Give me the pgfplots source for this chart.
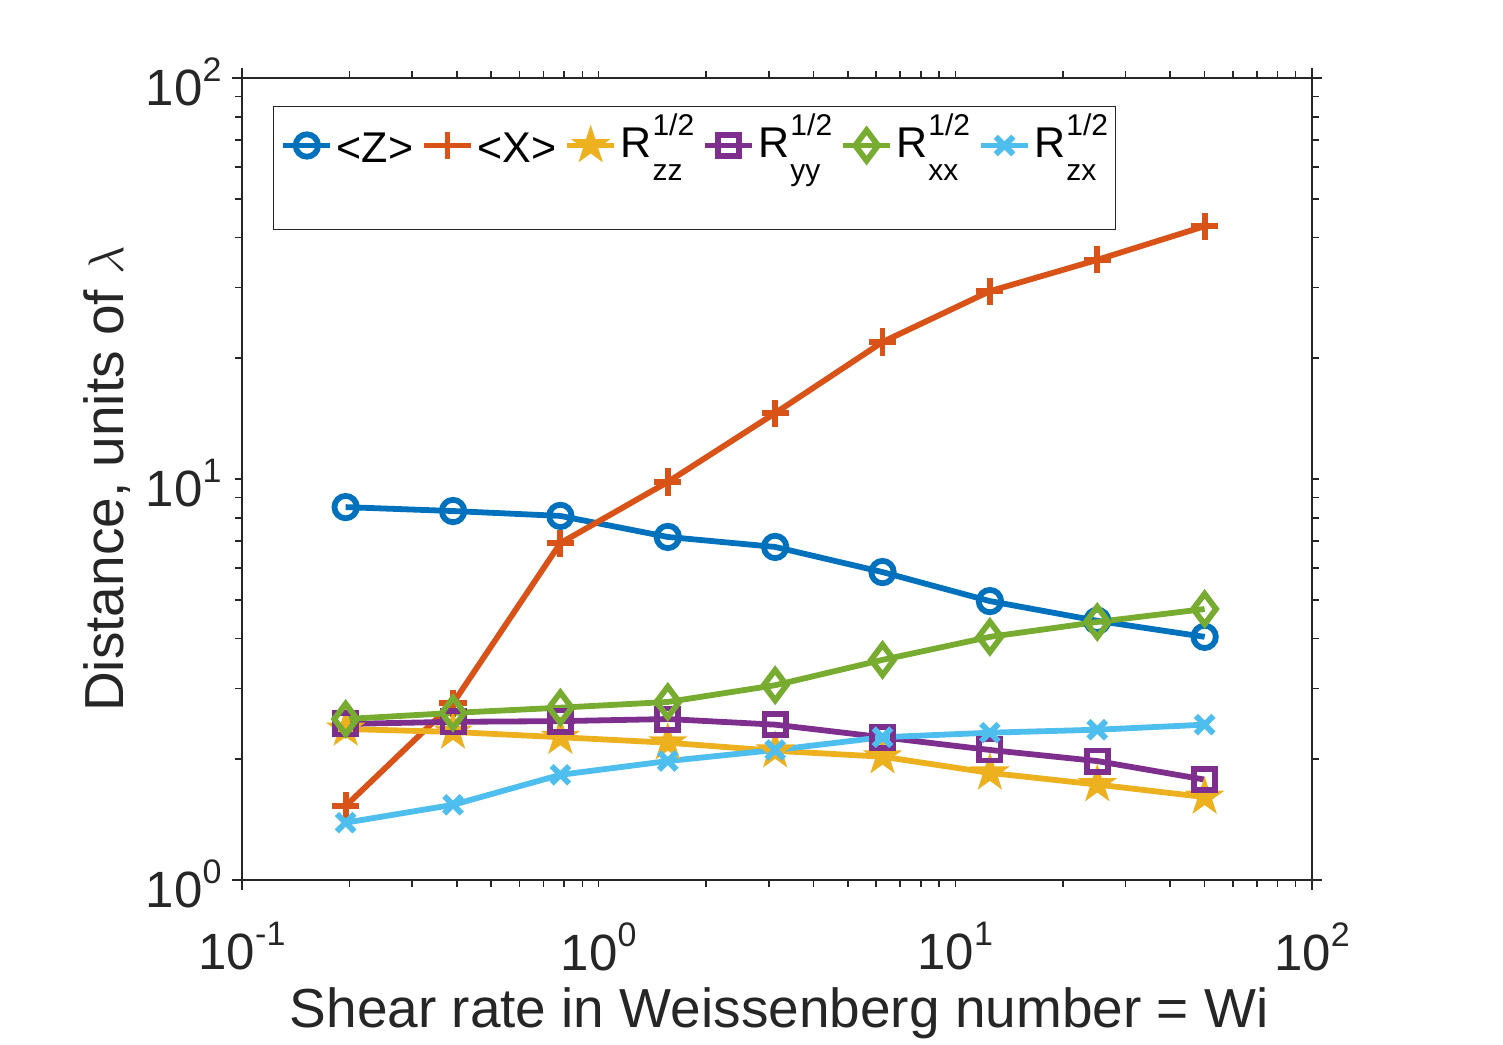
\documentclass[border=0pt]{standalone}
\usepackage{fontspec}
\setmainfont{Liberation Sans}
\usepackage{pgfplots}
\pgfplotsset{compat=1.18}

\definecolor{mblue}{rgb}{0,0.447,0.741}
\definecolor{morange}{rgb}{0.850,0.325,0.098}
\definecolor{myellow}{rgb}{0.929,0.694,0.125}
\definecolor{mpurple}{rgb}{0.494,0.184,0.556}
\definecolor{mgreen}{rgb}{0.466,0.674,0.188}
\definecolor{mcyan}{rgb}{0.301,0.745,0.933}
\definecolor{axgray}{rgb}{0.15,0.15,0.15}

% filled five-pointed star
\pgfdeclareplotmark{fstar}{%
  \pgfpathmoveto{\pgfpointpolar{90}{\pgfplotmarksize}}%
  \pgfpathlineto{\pgfpointpolar{126}{0.382\pgfplotmarksize}}%
  \pgfpathlineto{\pgfpointpolar{162}{\pgfplotmarksize}}%
  \pgfpathlineto{\pgfpointpolar{198}{0.382\pgfplotmarksize}}%
  \pgfpathlineto{\pgfpointpolar{234}{\pgfplotmarksize}}%
  \pgfpathlineto{\pgfpointpolar{270}{0.382\pgfplotmarksize}}%
  \pgfpathlineto{\pgfpointpolar{306}{\pgfplotmarksize}}%
  \pgfpathlineto{\pgfpointpolar{342}{0.382\pgfplotmarksize}}%
  \pgfpathlineto{\pgfpointpolar{18}{\pgfplotmarksize}}%
  \pgfpathlineto{\pgfpointpolar{54}{0.382\pgfplotmarksize}}%
  \pgfpathclose
  \pgfusepathqfillstroke}

% power-of-ten tick labels
\newcommand{\tl}[1]{10\raisebox{12pt}{\fontsize{17}{17}\selectfont #1}}
% R^{1/2} with a subscript
\newcommand{\Rlab}[1]{R\kern0.5pt\raisebox{-11.5pt}{\makebox[0pt][l]{\fontsize{15}{15}\selectfont #1}}\raisebox{11pt}{\fontsize{15}{15}\selectfont 1/2}}

\begin{document}
\begin{tikzpicture}
\useasboundingbox (-121pt,-82pt) rectangle (630.5pt,440pt);
\begin{axis}[
  scale only axis, width=535pt, height=401pt,
  xmode=log, ymode=log,
  xmin=0.1, xmax=100, ymin=1, ymax=100,
  separate axis lines,
  axis line style={axgray, line width=0.8pt},
  every outer x axis line/.append style={shorten <=-5pt, shorten >=-5pt},
  every outer y axis line/.append style={shorten <=-5pt, shorten >=-5pt},
  tick style={axgray, line width=0.8pt},
  tick align=outside,
  major tick length=3.5pt, minor tick length=3.5pt,
  xtick={0.1,1,10,100}, xticklabels={\tl{-1},\tl{0},\tl{1},\tl{2}},
  ytick={1,10,100}, yticklabels={\tl{0},\tl{1},\tl{2}},
  tick label style={font=\fontsize{25.5}{28}\selectfont, text=axgray},
  xticklabel style={anchor=north, inner sep=0pt, yshift=-17.5pt},
  yticklabel style={anchor=east, inner sep=0pt, xshift=-6.5pt, yshift=-2pt},
  xlabel={Shear rate in Weissenberg number = Wi},
  ylabel={Distance, units of $\lambda$},
  xlabel style={at={(axis description cs:0.502,-0.1833)}, anchor=base,
    font=\fontsize{27.5}{30}\selectfont, text=axgray},
  ylabel style={at={(axis description cs:-0.1112,0.5)}, anchor=base,
    font=\fontsize{27.5}{30}\selectfont, text=axgray},
  every axis plot/.append style={line width=2.9pt},
  legend columns=6,
  legend image code/.code={%
    \draw[mark repeat=2,mark phase=2] plot coordinates {(0pt,6pt) (11.75pt,6pt) (23.5pt,6pt)};},
  legend style={at={(0,1)}, anchor=north west, xshift=15.5pt, yshift=-14pt,
    draw=axgray, line width=0.5pt, inner xsep=3.5pt, inner ysep=0pt,
    font=\fontsize{21.5}{24}\selectfont, text=black,
    nodes={inner sep=0pt, anchor=base, text height=25.5pt, text depth=36pt},
    /tikz/every odd column/.append style={column sep=1.7pt},
    /tikz/every even column/.append style={column sep=4pt}},
]
\addplot[color=mblue, mark=o, mark size=5.6pt] coordinates {
  (0.1953125,8.51) (0.390625,8.32) (0.78125,8.09) (1.5625,7.17) (3.125,6.77)
  (6.25,5.86) (12.5,4.96) (25,4.43) (50,4.04)};
\addlegendentry{\raisebox{-2.5pt}{<Z>}}
\addplot[color=morange, mark=+, mark size=6.8pt] coordinates {
  (0.1953125,1.53) (0.390625,2.76) (0.78125,6.92) (1.5625,9.83) (3.125,14.6)
  (6.25,21.96) (12.5,29.4) (25,35.2) (50,42.7)};
\addlegendentry{\raisebox{-2.5pt}{<X>}}
\addplot[color=myellow, mark=fstar, mark size=8.8pt,
  mark options={fill=myellow, line width=1pt}] coordinates {
  (0.1953125,2.38) (0.390625,2.34) (0.78125,2.27) (1.5625,2.20) (3.125,2.10)
  (6.25,2.03) (12.5,1.85) (25,1.73) (50,1.61)};
\addlegendentry{\Rlab{zz}}
\addplot[color=mpurple, mark=square, mark size=5.3pt] coordinates {
  (0.1953125,2.45) (0.390625,2.48) (0.78125,2.49) (1.5625,2.52) (3.125,2.44)
  (6.25,2.27) (12.5,2.11) (25,1.98) (50,1.78)};
\addlegendentry{\Rlab{yy}}
\addplot[color=mgreen, mark=diamond, mark size=7.6pt] coordinates {
  (0.1953125,2.52) (0.390625,2.61) (0.78125,2.69) (1.5625,2.78) (3.125,3.06)
  (6.25,3.54) (12.5,4.04) (25,4.40) (50,4.74)};
\addlegendentry{\Rlab{xx}}
\addplot[color=mcyan, mark=x, mark size=6.2pt] coordinates {
  (0.1953125,1.39) (0.390625,1.54) (0.78125,1.83) (1.5625,1.98) (3.125,2.11)
  (6.25,2.27) (12.5,2.33) (25,2.37) (50,2.44)};
\addlegendentry{\Rlab{zx}}
\end{axis}
\end{tikzpicture}
\end{document}
